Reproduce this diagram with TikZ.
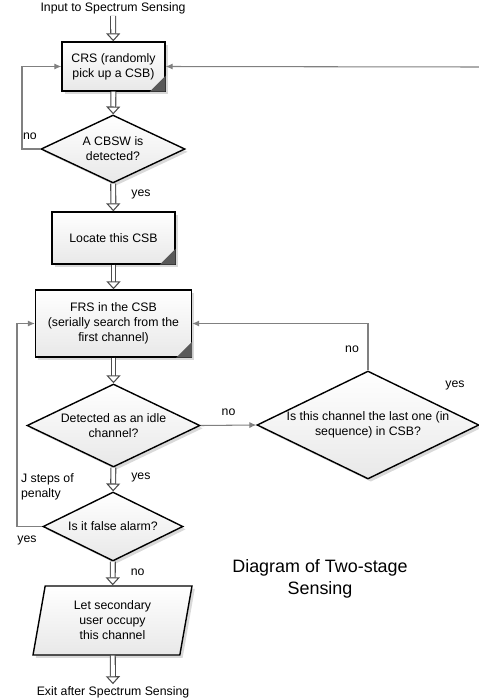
\documentclass[tikz,border=0pt]{standalone}
\usepackage{fontspec}
\setmainfont{Liberation Sans}
\usetikzlibrary{shapes.geometric}
\usetikzlibrary{shadows}
\usetikzlibrary{arrows.meta}
\tikzset{x=0.02cm, y=-0.02cm,
    every node/.style={
        font=\fontsize{7}{8.5}\selectfont,
        align=center,
        inner sep=1pt},
    box/.style={
        draw, thick,
        top color=white, bottom color=gray!18,
        drop shadow={shadow xshift=1.6pt, shadow yshift=-1.6pt, opacity=.3}},
    decision/.style={
        box, diamond, aspect=2, inner sep=0pt},
    output/.style={
        box, trapezium, trapezium left angle=74, trapezium right angle=106,
        trapezium stretches body},
    flow/.style={
        draw=gray!60!black, semithick, double=white, double distance=2.2pt,
        -{Triangle[open, fill=white, length=4.5pt, width=8pt]}},
    back/.style={
        draw=gray, semithick,
        -{Latex[length=4pt, width=3.5pt]}}}
\newcommand{\fold}[1]{%
    \fill[gray!70!black] ([xshift=-0.32cm]#1.south east) -- (#1.south east)
        -- ([yshift=0.32cm]#1.south east) -- cycle;}

\begin{document}
\begin{tikzpicture}
        \useasboundingbox (0,0) rectangle (479,700);

        \node (in) at (113,8) {Input to Spectrum Sensing};
        \node[box, minimum width=2.06cm, minimum height=0.98cm] (crs) at (113.5,66.5) {CRS (randomly\\pick up a CSB)};
        \node[decision, minimum width=2.88cm, minimum height=1.36cm] (cbsw) at (113,149) {A CBSW is\\detected?};
        \node[box, minimum width=2.46cm, minimum height=1.04cm] (loc) at (113.5,238) {Locate this CSB};
        \node[box, minimum width=3.12cm, minimum height=1.34cm] (frs) at (113.5,323.5) {FRS in the CSB\\(serially search from the\\first channel)};
        \node[decision, minimum width=3.46cm, minimum height=1.66cm] (idle) at (113.5,425.5) {Detected as an idle\\channel?};
        \node[decision, minimum width=4.44cm, minimum height=2.16cm] (last) at (368,425) {Is this channel the last one (in\\sequence) in CSB?};
        \node[decision, minimum width=2.8cm, minimum height=1.38cm] (alarm) at (113,526.5) {Is it false alarm?};
        \node[output, minimum width=3.18cm, minimum height=1.38cm] (occ) at (112.5,620.5) {Let secondary\\user occupy\\this channel};
        \node (out) at (113,692) {Exit after Spectrum Sensing};

        \fold{crs}
        \fold{loc}
        \fold{frs}

        \coordinate (edge) at (479,67);
        \coordinate (cl) at (22,0);
        \coordinate (fl) at (17,0);

        \draw[flow] (in) -- (crs);
        \draw[flow] (crs) -- (cbsw);
        \draw[flow] (cbsw) -- node[right=9pt, pos=.4] {yes} (loc);
        \draw[flow] (loc) -- (frs);
        \draw[flow] (frs) -- (idle);
        \draw[flow] (idle) -- node[right=9pt, pos=.4] {yes} (alarm);
        \draw[flow] (alarm) -- node[right=9pt, pos=.45] {no} (occ);
        \draw[flow] (occ) -- (out);

        \draw[back] (cbsw.west) -| (cl |- crs) -- (crs.west);
        \draw[back] (edge) -- (crs.east);
        \draw[back] (idle.east) -- node[above=4pt] {no} (last.west);
        \draw[back] (last.north) |- (frs.east);
        \draw[back] (alarm.west) -| (fl |- frs) -- (frs.west);

        \node at (30,136) {no};
        \node at (352,349) {no};
        \node at (455,385) {yes};
        \node[align=left, anchor=west] at (19,487) {J steps of\\penalty};
        \node at (27,540) {yes};
        \node[font=\fontsize{10.2}{12.5}\selectfont] (title) at (320,579) {Diagram of Two-stage\\Sensing};
    \end{tikzpicture}
\end{document}
